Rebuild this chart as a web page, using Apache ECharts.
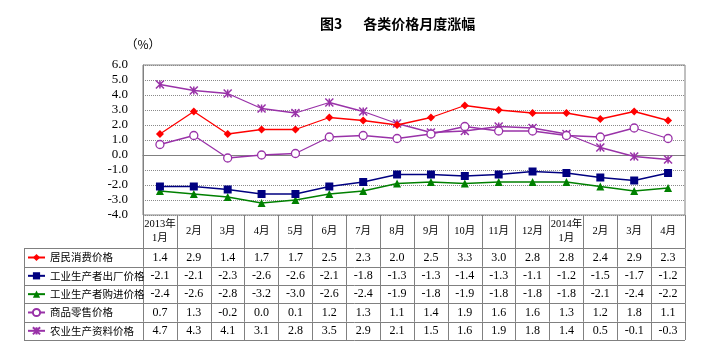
<!DOCTYPE html>
<html><head><meta charset="utf-8">
<script src="https://cdn.jsdelivr.net/npm/echarts@6/dist/echarts.min.js"></script>
<style>html,body{margin:0;padding:0;background:#fff}#c{width:711px;height:353px}</style>
</head><body><div id="c"></div>
<script>
const categories = ['2013年\n1月','2月','3月','4月','5月','6月','7月','8月','9月','10月','11月','12月','2014年\n1月','2月','3月','4月'];
const seriesNames = ['居民消费价格','工业生产者出厂价格','工业生产者购进价格','商品零售价格','农业生产资料价格'];
const cpi   = [1.4, 2.9, 1.4, 1.7, 1.7, 2.5, 2.3, 2.0, 2.5, 3.3, 3.0, 2.8, 2.8, 2.4, 2.9, 2.3];
const ppi   = [-2.1,-2.1,-2.3,-2.6,-2.6,-2.1,-1.8,-1.3,-1.3,-1.4,-1.3,-1.1,-1.2,-1.5,-1.7,-1.2];
const ppirm = [-2.4,-2.6,-2.8,-3.2,-3.0,-2.6,-2.4,-1.9,-1.8,-1.9,-1.8,-1.8,-1.8,-2.1,-2.4,-2.2];
const rpi   = [0.7, 1.3,-0.2, 0.0, 0.1, 1.2, 1.3, 1.1, 1.4, 1.9, 1.6, 1.6, 1.3, 1.2, 1.8, 1.1];
const agri  = [4.7, 4.3, 4.1, 3.1, 2.8, 3.5, 2.9, 2.1, 1.5, 1.6, 1.9, 1.8, 1.4, 0.5,-0.1,-0.3];
const yMin = -4.0, yMax = 6.0, yStep = 1.0;
const titleText = '图3\u3000\u2002各类价格月度涨幅';
const unitText = '（%）';

const allData = [cpi, ppi, ppirm, rpi, agri];
const colors = ['#FF0000','#000080','#008000','#9932A8','#9932A8'];
const symbols = ['diamond','rect','triangle','circle','path://M0,0L10,10M10,0L0,10M5,0L5,10'];
const symSizes = [8,8,8,8,8];

// layout
const W = 711, H = 353;
const gL = 143, gR = 685, gT = 65, gB = 215;
const headH = 33.33, rowH = 18.33, tabL = 24;
const serifFont = '"Liberation Serif","Noto Sans CJK SC",serif';
const cjkFont = '"Noto Sans CJK SC","Liberation Serif",sans-serif';

const chart = echarts.init(document.getElementById('c'), null, {renderer:'canvas'});

const xAxes = [];
xAxes.push({
  type:'category', data:categories, gridIndex:0, position:'bottom', offset:0,
  boundaryGap:true,
  axisLine:{show:false, onZero:false},
  axisTick:{show:true, interval:0, length:headH, lineStyle:{color:'#808080', width:1}},
  axisLabel:{interval:0, color:'#000', fontFamily:serifFont, fontSize:10.5, lineHeight:14,
             verticalAlign:'middle', margin:headH/2},
  splitLine:{show:false}
});
allData.forEach((arr, i) => {
  xAxes.push({
    type:'category', data:categories, gridIndex:0, position:'bottom', offset:headH + rowH*i,
    boundaryGap:true,
    axisLine:{show:false, onZero:false},
    axisTick:{show:true, interval:0, length:rowH, lineStyle:{color:'#808080', width:1}},
    axisLabel:{interval:0, color:'#000', fontFamily:serifFont, fontSize:12,
               verticalAlign:'middle', margin:rowH/2,
               formatter:(v, idx) => arr[idx].toFixed(1)},
    splitLine:{show:false}
  });
});
xAxes.push({
  type:'category', data:categories, gridIndex:0, position:'bottom',
  axisLine:{show:true, onZero:true, lineStyle:{color:'#808080', width:1}},
  axisTick:{show:false}, axisLabel:{show:false}, splitLine:{show:false}
});

const graphics = [];
for (let i = 0; i <= allData.length; i++) {
  const y = Math.round(gB + headH + rowH*i) + 0.5;
  graphics.push({type:'line', shape:{x1:tabL, y1:y, x2:gR, y2:y}, style:{stroke:'#808080', lineWidth:1}, silent:true});
}
graphics.push({type:'line', shape:{x1:tabL+0.5, y1:Math.round(gB+headH)+0.5, x2:tabL+0.5, y2:Math.round(gB+headH+rowH*allData.length)+0.5}, style:{stroke:'#808080', lineWidth:1}, silent:true});

const series = allData.map((arr, i) => ({
  name: seriesNames[i], type:'line', data:arr, xAxisIndex:0, yAxisIndex:0,
  symbol: symbols[i], symbolSize: symSizes[i], showAllSymbol:true,
  lineStyle:{color:colors[i], width:1.3},
  itemStyle: i===3 ? {color:'#fff', borderColor:colors[i], borderWidth:1.3}
           : i===4 ? {color:colors[i], borderColor:colors[i], borderWidth:1.5}
           : {color:colors[i], borderColor:colors[i], borderWidth:0},
  z: 10 - i,
  animation:false
}));

const legendItemH = 9, legendTextH = 14;
chart.setOption({
  animation:false,
  backgroundColor:'#fff',
  title:{text:titleText, left:315, top:12,
         textStyle:{fontFamily:cjkFont, fontSize:14, fontWeight:'bold', color:'#000'}},
  legend:{orient:'vertical', left:tabL+3, top:gB+headH+(rowH-legendTextH)/2, padding:0,
          itemWidth:17, itemHeight:legendItemH,
          itemGap:rowH-legendTextH, data:seriesNames,
          textStyle:{fontFamily:cjkFont, fontSize:10.5, lineHeight:legendTextH, color:'#000'}},
  grid:{left:gL, right:W-gR, top:gT, bottom:H-gB, show:true, borderColor:'#808080', borderWidth:1, containLabel:false},
  xAxis:xAxes,
  yAxis:{type:'value', min:yMin, max:yMax, interval:yStep,
         name:unitText, nameLocation:'end', nameGap:15,
         nameTextStyle:{fontFamily:cjkFont, fontSize:12, color:'#000', align:'center'},
         axisLine:{show:true, lineStyle:{color:'#808080'}},
         axisTick:{show:false},
         axisLabel:{color:'#000', fontFamily:serifFont, fontSize:13, margin:15,
                    formatter:v => v.toFixed(1)},
         splitLine:{show:true, lineStyle:{color:'#8a8a8a', type:'dotted', width:1}}},
  graphic:graphics,
  series:series
});
</script></body></html>
